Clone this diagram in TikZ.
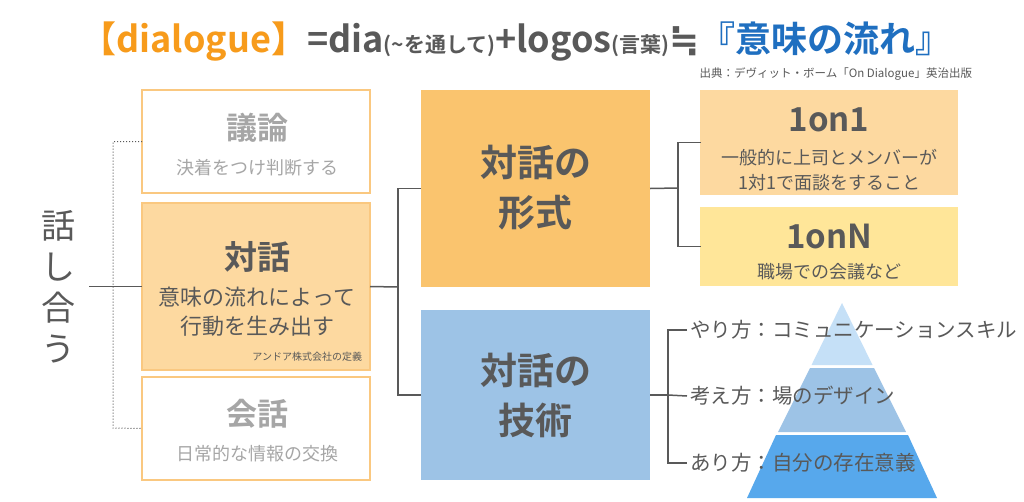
\documentclass[tikz,border=0pt]{standalone}
\usepackage{fontspec}
\setmainfont{Noto Sans CJK JP}
\newfontfamily\jpbold{Noto Sans CJK JP Bold}
\newfontfamily\symfont{DejaVu Sans Bold}
\usepackage{tikz}
\definecolor{txtgray}{HTML}{595959}
\definecolor{litegray}{HTML}{A6A6A6}
\definecolor{orline}{HTML}{FAC880}
\definecolor{orfill}{HTML}{FDD9A0}
\definecolor{ordeep}{HTML}{FAC46E}
\definecolor{yelfill}{HTML}{FFE699}
\definecolor{bluefill}{HTML}{9DC3E6}
\definecolor{bluelite}{HTML}{C5E0F7}
\definecolor{bluedeep}{HTML}{57A8EC}
\definecolor{titleor}{HTML}{F79B1B}
\definecolor{titleblue}{HTML}{1F6FC0}
\begin{document}
\begin{tikzpicture}[x=1pt,y=-1pt,
  every node/.style={outer sep=0pt, inner sep=0pt, text=txtgray},
  box/.style={draw=orline, line width=1.5pt, minimum width=228pt, anchor=north west},
  bigbox/.style={minimum width=229pt, anchor=north west},
  line/.style={draw=txtgray, line width=1.5pt}]
\useasboundingbox[fill=white] (0,0) rectangle (1024,501);

% title
\node (title) at (516,42) {\jpbold\fontsize{36}{40}\selectfont
  \textcolor{titleor}{【dialogue】}=dia{\fontsize{21}{24}\selectfont(\textasciitilde を通して)}+logos{\fontsize{21}{24}\selectfont(言葉)}{\symfont ≒}\textcolor{titleblue}{『意味の流れ』}};
\node[anchor=east, font=\fontsize{11.5}{13}\selectfont] (source) at (972,74) {出典：デヴィット・ボーム「On Dialogue」英治出版};

% left column
\node[box, fill=white, minimum height=103pt] (giron) at (142,90) {};
\node[text=litegray, font=\jpbold\fontsize{31}{36}\selectfont] at (257,128) {議論};
\node[text=litegray, font=\fontsize{18}{20}\selectfont] at (257,168) {決着をつけ判断する};

\node[box, fill=orfill, minimum height=167pt] (taiwa) at (142,203) {};
\node[font=\jpbold\fontsize{33}{38}\selectfont] at (257,257) {対話};
\node[align=center, font=\fontsize{22}{29}\selectfont] at (257,312) {意味の流れによって\\行動を生み出す};
\node[anchor=east, font=\fontsize{10}{12}\selectfont] at (362,357) {アンドア株式会社の定義};

\node[box, fill=white, minimum height=103pt] (kaiwa) at (142,377) {};
\node[text=litegray, font=\jpbold\fontsize{31}{36}\selectfont] at (257,414) {会話};
\node[text=litegray, font=\fontsize{18}{20}\selectfont] at (257,454) {日常的な情報の交換};

\node[align=center, font=\fontsize{34}{41}\selectfont] (hanashi) at (58,287) {話\\し\\合\\う};

% middle column
\node[bigbox, fill=ordeep, minimum height=197pt] (keishiki) at (421,90) {};
\node[align=center, font=\jpbold\fontsize{37}{50}\selectfont] at (535.5,188) {対話の\\形式};
\node[bigbox, fill=bluefill, minimum height=170pt] (gijutsu) at (421,310) {};
\node[align=center, font=\jpbold\fontsize{37}{50}\selectfont] at (535.5,395) {対話の\\技術};

% right column
\node[box, draw=orfill, fill=orfill, minimum width=256pt, minimum height=103pt] (oneone) at (701,91) {};
\node[font=\jpbold\fontsize{33}{38}\selectfont] at (829,120) {1on1};
\node[align=center, font=\fontsize{18}{25}\selectfont] at (829,170) {一般的に上司とメンバーが\\1対1で面談をすること};
\node[box, draw=yelfill, fill=yelfill, minimum width=256pt, minimum height=77pt] (onen) at (701,208) {};
\node[font=\jpbold\fontsize{33}{38}\selectfont] at (829,236) {1onN};
\node[font=\fontsize{18}{20}\selectfont] at (829,272) {職場での会議など};

% pyramid
\fill[bluelite] (842,303) -- (872.5,365) -- (811.5,365) -- cycle;
\fill[bluefill] (810,368) -- (874,368) -- (906,432) -- (778,432) -- cycle;
\fill[bluedeep] (776,435) -- (908,435) -- (937,498) -- (747,498) -- cycle;
\node[anchor=west, font=\fontsize{20.5}{24}\selectfont] (yari) at (690,330) {やり方：コミュニケーションスキル};
\node[anchor=west, font=\fontsize{20.5}{24}\selectfont] (kange) at (690,396) {考え方：場のデザイン};
\node[anchor=west, font=\fontsize{20.5}{24}\selectfont] (ari) at (690,463) {あり方：自分の存在意義};

% connectors
\draw[line] (hanashi.east |- taiwa.west) ++(14,0) -- (taiwa.west);
\draw[draw=txtgray, line width=1pt, dotted] (giron.west) -| (113,428) -- (kaiwa.west);
\draw[line] (taiwa.east) -- (398,287) coordinate (m1);
\draw[line] (keishiki.west) -| (m1) |- (gijutsu.west);
\draw[line] (keishiki.east) -- (678,188) coordinate (m2);
\draw[line] (oneone.west) -| (m2) |- (onen.west);
\draw[line] (gijutsu.east) -- (668,395) coordinate (m3);
\draw[line] (yari.west) ++(-3,0) -| (m3) |- ([xshift=-3pt]ari.west);
\draw[line] (m3) -- ([xshift=-3pt]kange.west);
\end{tikzpicture}
\end{document}
